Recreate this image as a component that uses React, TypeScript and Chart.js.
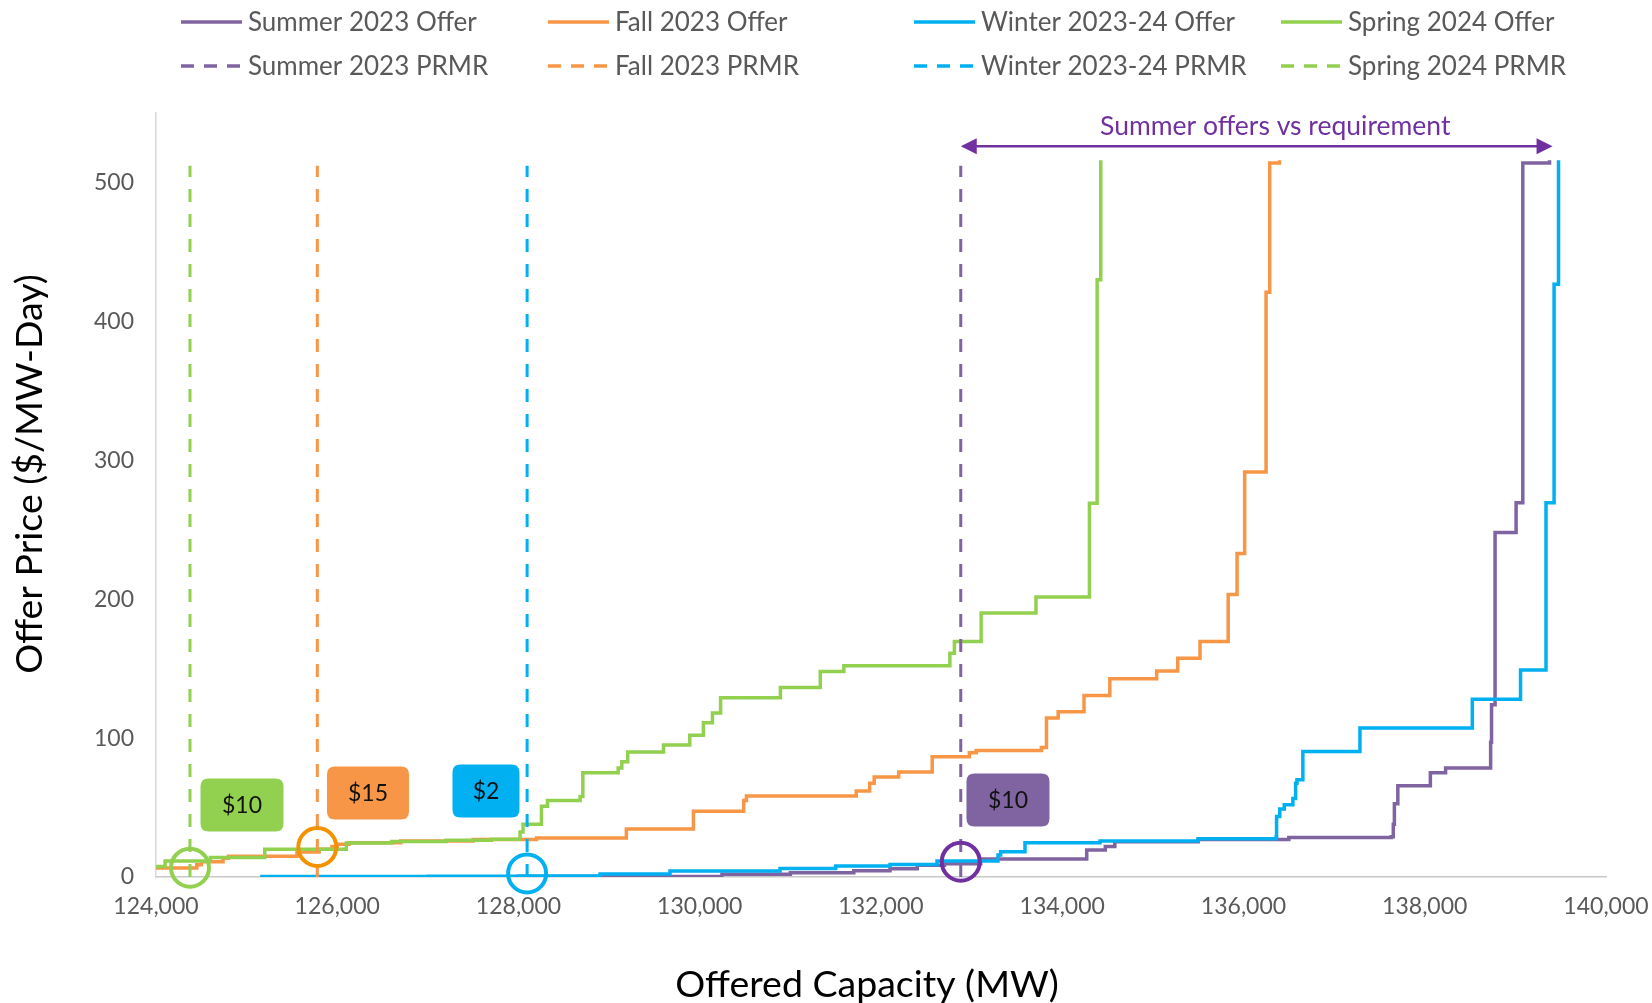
import { useEffect, useRef } from 'react';
import { Chart, registerables } from 'chart.js';

Chart.register(...registerables);

// ---------- DATA ----------
const seasons = ['Summer 2023', 'Fall 2023', 'Winter 2023-24', 'Spring 2024'];

const xTickValues = [124000, 126000, 128000, 130000, 132000, 134000, 136000, 138000, 140000];
const yTickValues = [0, 100, 200, 300, 400, 500];

// Offer curves: capacity where each price step begins (MW) and the step price ($/MW-Day)
const summerCap = [125200, 128000, 130245, 131000, 131700, 132099, 132400, 132700, 133100, 134270, 134475, 134580, 135500, 136500, 137629, 137653, 137665, 137703, 138062, 138230, 138727, 138737, 138776, 139008, 139082, 139377];
const summerPrice = [0, 0.3, 2, 3, 4.5, 6, 8.5, 9.5, 13, 19.4, 22, 25.3, 27, 28.5, 29, 38, 52.8, 65.7, 75, 78.5, 97, 124, 248, 269.5, 514, 516];

const fallCap = [124000, 124450, 124500, 124740, 124800, 125556, 125800, 125942, 126000, 126130, 126700, 127500, 128200, 129190, 129930, 130485, 130515, 131727, 131875, 131925, 132195, 132565, 132975, 133050, 133770, 133826, 133955, 134240, 134525, 135042, 135274, 135520, 135831, 135929, 136013, 136249, 136289, 136397];
const fallPrice = [6.5, 8.8, 11, 13.5, 15, 18, 20, 22, 23.5, 24.7, 26, 27, 28, 34.5, 47.3, 55, 58.3, 62, 67.5, 72, 75.6, 86.6, 89.5, 91, 93.2, 114.5, 119, 130.7, 142.8, 148.3, 157.5, 169.6, 203.4, 232.8, 291.6, 420.9, 514, 516];

const winterCap = [125150, 127000, 128000, 128900, 129672, 130886, 131500, 132100, 132618, 133291, 133320, 133589, 134417, 135500, 136360, 136365, 136400, 136450, 136545, 136575, 136590, 136655, 137285, 138525, 139057, 139338, 139427, 139476];
const winterPrice = [0.3, 0.6, 0.8, 2.2, 4.3, 6.2, 7.9, 9, 11.5, 15.8, 18.2, 24.7, 26, 27.5, 29, 43.6, 49, 52, 56.5, 67.5, 70, 90.3, 107.2, 128, 149, 269.5, 426.7, 516];

const springCap = [124000, 124100, 124600, 125200, 126100, 126600, 127200, 127700, 128017, 128050, 128253, 128320, 128680, 128710, 129100, 129140, 129205, 129600, 129890, 130040, 130140, 130230, 130890, 131330, 131590, 132760, 132810, 133105, 133710, 134300, 134385, 134425];
const springPrice = [7.5, 11.5, 14, 20, 24.5, 25.5, 26.5, 27.2, 32.4, 38, 51, 55, 58, 75, 78.5, 83, 90, 95, 102, 111, 118, 129, 136.5, 148, 152, 161, 169.5, 190, 201.5, 269, 430, 516];

// PRMR (requirement) capacity for each season, in the seasons' order
const prmrCapacity = [132880, 125780, 128095, 124375];
const prmrTop = 512;

// Clearing price callouts
const clearingLabels = ['$10', '$15', '$2', '$10'];
const circlePrice = [11, 21.6, 2.6, 6.7];
const labelCapacity = [133401, 126339, 127641, 124949];
const labelPrice = [55.4, 60.5, 61.9, 51.8];

const arrowLabel = 'Summer offers vs requirement';
const arrowEndCapacity = 139410;
const arrowPrice = 526;
const arrowLabelCapacity = 136350;
const arrowLabelPrice = 540;

// ---------- STYLES ----------
const lineColors = ['#8064A2', '#F79646', '#00B0F0', '#92D050'];
const circleColors = ['#7030A0', '#F39200', '#00B0F0', '#92D050'];
const boxWidths = [83, 82, 67, 83];
const FONT = 'Lato, "Open Sans", sans-serif';

const pts = (xs: number[], ys: number[]) => xs.map((x, i) => ({ x, y: ys[i] }));

function roundRect(ctx: CanvasRenderingContext2D, x: number, y: number, w: number, h: number, r: number) {
  ctx.beginPath();
  ctx.moveTo(x + r, y);
  ctx.lineTo(x + w - r, y);
  ctx.quadraticCurveTo(x + w, y, x + w, y + r);
  ctx.lineTo(x + w, y + h - r);
  ctx.quadraticCurveTo(x + w, y + h, x + w - r, y + h);
  ctx.lineTo(x + r, y + h);
  ctx.quadraticCurveTo(x, y + h, x, y + h - r);
  ctx.lineTo(x, y + r);
  ctx.quadraticCurveTo(x, y, x + r, y);
  ctx.closePath();
}

const overlay = {
  id: 'overlay',
  afterDraw(chart: any) {
    const ctx: CanvasRenderingContext2D = chart.ctx;
    const xs = chart.scales.x;
    const ys = chart.scales.y;
    ctx.save();

    // circles
    for (let i = 0; i < 4; i++) {
      const cx = xs.getPixelForValue(prmrCapacity[i]);
      const cy = ys.getPixelForValue(circlePrice[i]);
      ctx.beginPath();
      ctx.arc(cx, cy, 19, 0, Math.PI * 2);
      ctx.strokeStyle = circleColors[i];
      ctx.lineWidth = 4;
      ctx.setLineDash([]);
      ctx.stroke();
    }

    // label boxes
    for (let i = 0; i < 4; i++) {
      const cx = xs.getPixelForValue(labelCapacity[i]);
      const cy = ys.getPixelForValue(labelPrice[i]);
      const w = boxWidths[i];
      const h = 53;
      roundRect(ctx, cx - w / 2, cy - h / 2, w, h, 8);
      ctx.fillStyle = lineColors[i];
      ctx.fill();
      ctx.fillStyle = '#111';
      ctx.font = `23px ${FONT}`;
      ctx.textAlign = 'center';
      ctx.textBaseline = 'middle';
      ctx.fillText(clearingLabels[i], cx, cy + 1);
    }

    // arrow
    const ax1 = xs.getPixelForValue(prmrCapacity[0]);
    const ax2 = xs.getPixelForValue(arrowEndCapacity);
    const ay = ys.getPixelForValue(arrowPrice);
    ctx.strokeStyle = '#7030A0';
    ctx.fillStyle = '#7030A0';
    ctx.lineWidth = 2.5;
    ctx.beginPath();
    ctx.moveTo(ax1 + 12, ay);
    ctx.lineTo(ax2 - 12, ay);
    ctx.stroke();
    ctx.beginPath();
    ctx.moveTo(ax1, ay);
    ctx.lineTo(ax1 + 16, ay - 8);
    ctx.lineTo(ax1 + 16, ay + 8);
    ctx.closePath();
    ctx.fill();
    ctx.beginPath();
    ctx.moveTo(ax2, ay);
    ctx.lineTo(ax2 - 16, ay - 8);
    ctx.lineTo(ax2 - 16, ay + 8);
    ctx.closePath();
    ctx.fill();
    ctx.font = `26.5px ${FONT}`;
    ctx.textAlign = 'center';
    ctx.textBaseline = 'middle';
    ctx.fillText(arrowLabel, xs.getPixelForValue(arrowLabelCapacity), ys.getPixelForValue(arrowLabelPrice));

    // legend
    const cols = [181, 548, 914, 1281];
    const rows = [22, 66];
    ctx.font = `26px ${FONT}`;
    ctx.textAlign = 'left';
    ctx.textBaseline = 'middle';
    for (let r = 0; r < 2; r++) {
      for (let i = 0; i < 4; i++) {
        const lx = cols[i];
        const ly = rows[r];
        ctx.strokeStyle = lineColors[i];
        ctx.lineWidth = 3.5;
        ctx.setLineDash(r === 0 ? [] : [13, 10]);
        ctx.beginPath();
        ctx.moveTo(lx, ly);
        ctx.lineTo(lx + 61, ly);
        ctx.stroke();
        ctx.setLineDash([]);
        ctx.fillStyle = '#595959';
        ctx.fillText(`${seasons[i]} ${r === 0 ? 'Offer' : 'PRMR'}`, lx + 67, ly + 1);
      }
    }

    // axis titles
    ctx.fillStyle = '#000';
    ctx.font = `37.5px ${FONT}`;
    ctx.textAlign = 'center';
    ctx.textBaseline = 'middle';
    ctx.fillText('Offered Capacity (MW)', 867, 985);
    ctx.save();
    ctx.translate(30, 474);
    ctx.rotate(-Math.PI / 2);
    ctx.fillText('Offer Price ($/MW-Day)', 0, 0);
    ctx.restore();

    ctx.restore();
  },
};

export default function App() {
  const ref = useRef<HTMLCanvasElement>(null);
  useEffect(() => {
    const canvas = ref.current!;
    const offerSets = [
      pts(summerCap, summerPrice),
      pts(fallCap, fallPrice),
      pts(winterCap, winterPrice),
      pts(springCap, springPrice),
    ];
    const offerOrder = [4, 3, 2, 1];
    const datasets: any[] = [];
    for (let i = 0; i < 4; i++) {
      datasets.push({
        label: `${seasons[i]} Offer`,
        data: offerSets[i],
        borderColor: lineColors[i],
        backgroundColor: lineColors[i],
        borderWidth: 3.5,
        pointRadius: 0,
        stepped: true,
        fill: false,
        order: offerOrder[i],
      });
    }
    for (let i = 0; i < 4; i++) {
      datasets.push({
        label: `${seasons[i]} PRMR`,
        data: [
          { x: prmrCapacity[i], y: 0 },
          { x: prmrCapacity[i], y: prmrTop },
        ],
        borderColor: lineColors[i],
        borderWidth: 3,
        borderDash: [13, 12],
        pointRadius: 0,
        fill: false,
        order: 0,
      });
    }
    const chart = new Chart(canvas, {
      type: 'line',
      data: { datasets },
      options: {
        responsive: false,
        animation: false,
        devicePixelRatio: 1,
        layout: { padding: { left: 0, right: 46, top: 113, bottom: 0 } },
        plugins: { legend: { display: false }, tooltip: { enabled: false }, title: { display: false } },
        scales: {
          x: {
            type: 'linear',
            min: 124000,
            max: 140000,
            grid: { display: false, drawTicks: false },
            border: { display: true, color: '#C8C8C8', width: 1.5 },
            ticks: {
              font: { family: FONT, size: 23 },
              color: '#595959',
              padding: 16,
              maxRotation: 0,
              autoSkip: false,
              callback: (v: any) => Number(v).toLocaleString('en-US'),
            },
            afterBuildTicks: (s: any) => {
              s.ticks = xTickValues.map((v) => ({ value: v }));
            },
            afterFit: (s: any) => {
              s.height = 126;
              s.paddingLeft = 0;
              s.paddingRight = 0;
            },
          },
          y: {
            type: 'linear',
            min: 0,
            max: 550,
            grid: { display: false, drawTicks: false },
            border: { display: true, color: '#D9D9D9', width: 1.5 },
            ticks: {
              font: { family: FONT, size: 23 },
              color: '#595959',
              padding: 22,
              autoSkip: false,
            },
            afterBuildTicks: (s: any) => {
              s.ticks = yTickValues.map((v) => ({ value: v }));
            },
            afterFit: (s: any) => {
              s.width = 156;
              s.paddingTop = 0;
              s.paddingBottom = 0;
            },
          },
        },
      } as any,
      plugins: [overlay as any],
    });
    return () => chart.destroy();
  }, []);
  return (
    <div style={{ position: 'absolute', left: 0, top: 0, width: 1652, height: 1003, background: '#fff' }}>
      <canvas ref={ref} width={1652} height={1003} style={{ display: 'block', width: 1652, height: 1003 }} />
    </div>
  );
}
